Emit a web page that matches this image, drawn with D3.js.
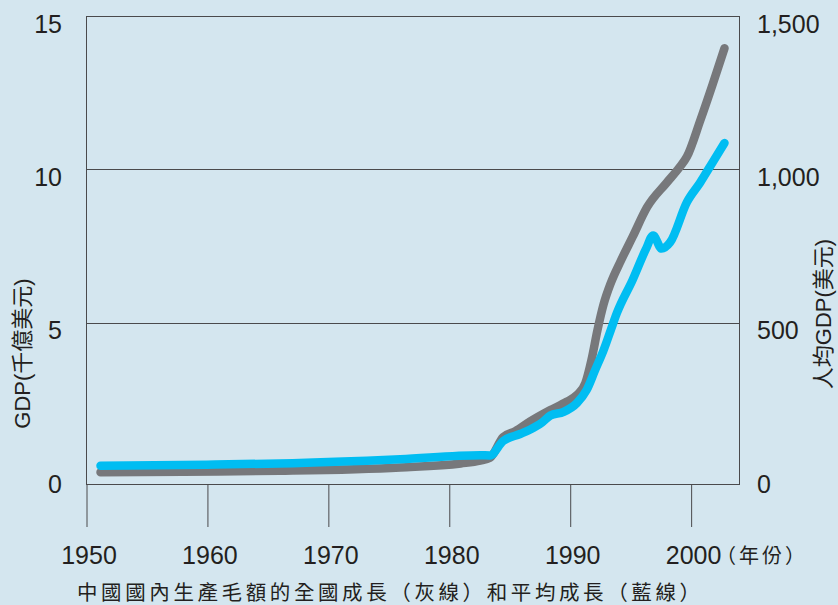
<!DOCTYPE html>
<html>
<head>
<meta charset="utf-8">
<script src="https://cdn.jsdelivr.net/npm/d3@7"></script>
<style>
  html, body { margin: 0; padding: 0; background: #d4e6ef; }
  svg { display: block; }
  text { fill: #231f20; font-family: "Liberation Sans", "Noto Sans CJK TC", sans-serif; }
</style>
</head>
<body>
<svg id="chart" width="838" height="605"></svg>
<script>
// ---- data ----
const xTicks = [1950, 1960, 1970, 1980, 1990, 2000];
const leftTicks = [0, 5, 10, 15];
const rightTicks = [0, 500, 1000, 1500];
const rightTickLabels = ["0", "500", "1,000", "1,500"];
const gridValues = [5, 10];

// GDP (千億美元) – grey line
const gdpYears  = [1951.2, 1958, 1966, 1976, 1981, 1982.6, 1983.4, 1984.5, 1985.5, 1986.7, 1988.4, 1989.75, 1990.6, 1991.3, 1991.8, 1992.3, 1992.8, 1993.4, 1994.2, 1995.2, 1996.4, 1998.0, 1999.1, 1999.7, 2000.8, 2001.8, 2002.8];
const gdpValues = [0.13, 0.15, 0.18, 0.29, 0.42, 0.51, 0.6, 1.28, 1.47, 1.78, 2.16, 2.43, 2.65, 3.04, 3.79, 4.77, 5.6, 6.3, 7.0, 7.8, 8.77, 9.56, 10.08, 10.42, 11.6, 12.75, 13.95];

// 人均GDP (美元) – blue line
const pcYears  = [1951.2, 1960, 1966, 1976, 1982.6, 1983.4, 1984.5, 1985.9, 1986.7, 1987.7, 1988.4, 1989.5, 1990.6, 1991.4, 1992.1, 1992.8, 1993.4, 1993.9, 1995.2, 1996.3, 1996.9, 1997.6, 1998.3, 1999.7, 2000.8, 2001.8, 2002.8];
const pcValues = [34.5, 38, 42, 56, 69, 68, 115, 138, 152, 175, 198, 210, 239, 281, 346, 411, 477, 532, 640, 740, 785, 742, 762, 894, 958, 1022, 1086];

const xSuffix = "（年份）";
const leftTitle = "GDP(千億美元)";
const rightTitle = "人均GDP(美元)";
const caption = "中國國內生產毛額的全國成長（灰線）和平均成長（藍線）";

// ---- layout ----
const svg = d3.select("#chart");
const W = 838, H = 605;
const plot = { left: 86, right: 739, top: 16, bottom: 484 };

svg.append("rect").attr("width", W).attr("height", H).attr("fill", "#d4e6ef");

const x = d3.scaleLinear().domain([1950, 2004]).range([plot.left, plot.right]);
const yL = d3.scaleLinear().domain([-0.25, 15]).range([plot.bottom, plot.top]);
const yR = d3.scaleLinear().domain([-25, 1500]).range([plot.bottom, plot.top]);

const frameColor = "#4a4a4c";

// gridlines
svg.append("g").selectAll("line").data(gridValues).join("line")
  .attr("x1", plot.left).attr("x2", plot.right)
  .attr("y1", d => Math.round(yL(d)) + 0.5).attr("y2", d => Math.round(yL(d)) + 0.5)
  .attr("stroke", frameColor).attr("stroke-width", 1);

// frame
svg.append("rect")
  .attr("x", plot.left + 0.5).attr("y", plot.top + 0.5)
  .attr("width", plot.right - plot.left).attr("height", plot.bottom - plot.top)
  .attr("fill", "none").attr("stroke", frameColor).attr("stroke-width", 1);

// x axis
const xAxis = d3.axisBottom(x).tickValues(xTicks).tickSize(43).tickPadding(19).tickFormat(d3.format("d"));
const gx = svg.append("g").attr("transform", `translate(0.5,${plot.bottom})`).call(xAxis);
gx.select(".domain").remove();
gx.selectAll(".tick line").attr("stroke", frameColor).attr("stroke-width", 1);
gx.selectAll(".tick text").attr("font-size", 25).attr("dx", 2).attr("fill", "#231f20")
  .style("font-family", '"Liberation Sans", sans-serif');

svg.append("text")
  .attr("x", 716).attr("y", 563)
  .attr("font-size", 20).attr("letter-spacing", 3)
  .text(xSuffix);

// left axis labels
const gl = svg.append("g").attr("transform", `translate(62,0)`)
  .call(d3.axisLeft(yL).tickValues(leftTicks).tickSize(0).tickPadding(0));
gl.select(".domain").remove();
gl.selectAll(".tick text").attr("font-size", 25).attr("dy", 16).attr("y", 0)
  .attr("fill", "#231f20").style("font-family", '"Liberation Sans", sans-serif');

// right axis labels
const gr = svg.append("g").attr("transform", `translate(757,0)`)
  .call(d3.axisRight(yR).tickValues(rightTicks).tickSize(0).tickPadding(0)
    .tickFormat((d, i) => rightTickLabels[i]));
gr.select(".domain").remove();
gr.selectAll(".tick text").attr("font-size", 25).attr("dy", 16).attr("y", 0)
  .attr("fill", "#231f20").style("font-family", '"Liberation Sans", sans-serif');

// lines
const gdpData = gdpYears.map((yr, i) => [yr, gdpValues[i]]);
const pcData = pcYears.map((yr, i) => [yr, pcValues[i]]);

const lineL = d3.line().x(d => x(d[0])).y(d => yL(d[1])).curve(d3.curveMonotoneX);
const lineR = d3.line().x(d => x(d[0])).y(d => yR(d[1])).curve(d3.curveMonotoneX);

svg.append("path").datum(gdpData).attr("d", lineL)
  .attr("fill", "none").attr("stroke", "#77787b").attr("stroke-width", 8.5)
  .attr("stroke-linecap", "round").attr("stroke-linejoin", "round");

svg.append("path").datum(pcData).attr("d", lineR)
  .attr("fill", "none").attr("stroke", "#00bdf2").attr("stroke-width", 8.5)
  .attr("stroke-linecap", "round").attr("stroke-linejoin", "round");

// axis titles
svg.append("text")
  .attr("transform", `translate(30,${(275 + 432) / 2}) rotate(-90)`)
  .attr("text-anchor", "middle").attr("font-size", 22)
  .text(leftTitle);

svg.append("text")
  .attr("transform", `translate(831,${(233 + 395) / 2}) rotate(-90)`)
  .attr("text-anchor", "middle").attr("font-size", 22)
  .text(rightTitle);

// caption
svg.append("text")
  .attr("x", 77).attr("y", 600)
  .attr("font-size", 20.5).attr("letter-spacing", 3.6)
  .text(caption);
</script>
</body>
</html>
